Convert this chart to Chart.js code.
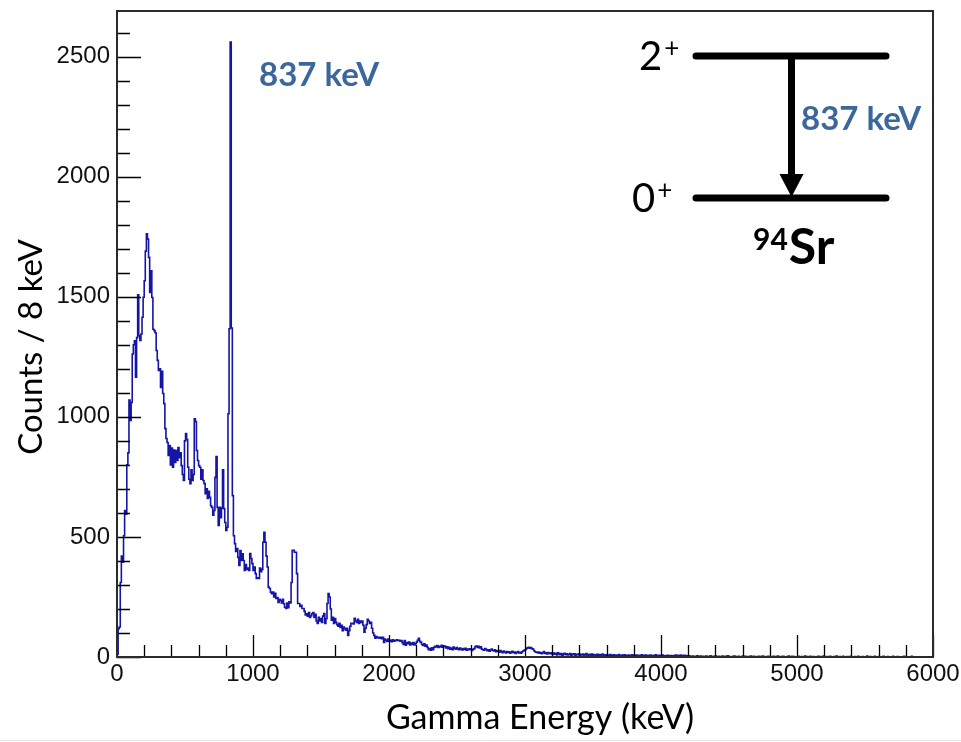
<!DOCTYPE html>
<html>
<head>
<meta charset="utf-8">
<script src="https://cdn.jsdelivr.net/npm/chart.js@4.4.1/dist/chart.umd.min.js"></script>
<style>
  html, body { margin: 0; padding: 0; background: #ffffff; }
  #wrap { width: 961px; height: 742px; position: relative; }
</style>
</head>
<body>
<div id="wrap"><canvas id="c" width="961" height="742"></canvas></div>
<script>
// ---- Data (counts per 8 keV bin) ----
const binWidth = 8; // keV
// 0 – 1000 keV
const countsA = [
  12,118,125,310,420,395,505,610,595,800,
  850,1070,985,1060,1262,1300,1317,1165,1330,1508,
  1338,1318,1345,1415,1498,1567,1690,1762,1740,1664,
  1518,1608,1497,1365,1359,1350,1276,1235,1193,1200,
  1122,1190,1097,1055,951,910,893,839,880,800,
  870,790,862,810,860,818,872,830,850,797,
  760,735,900,930,905,790,740,722,780,735,
  760,992,980,860,818,797,790,740,780,735,
  722,680,700,660,690,665,630,623,590,610,
  748,835,623,548,623,580,620,780,618,560,
  527,540,1013,1367,2561,1370,672,505,472,440,
  452,415,381,443,402,430,402,360,385,365,
  370,360,431,410,389
];
// 1000 – 2000 keV
const countsB = [
  360,375,347,327,330,327,370,355,365,478,
  519,478,420,375,291,285,270,264,270,250,
  265,244,248,227,240,235,225,240,222,207,
  202,225,205,230,225,310,444,444,436,436,
  347,223,223,210,215,202,202,190,175,180,
  170,185,165,172,180,185,165,178,150,140,
  165,150,160,144,170,181,140,160,223,264,
  250,200,153,165,140,160,144,135,128,140,
  123,132,110,125,118,112,119,90,110,128,
  140,140,138,161,150,144,157,140,150,144,
  150,132,103,120,135,157,150,140,145,120,
  100,90,78,85,80,82,78,82,76,82,
  61,75,70,65,75
];
// 2000 – 3000 keV
const countsC = [
  66,70,64,72,66,70,68,72,69,70,
  66,68,60,52,69,49,60,55,62,50,
  58,52,60,50,55,62,70,78,65,61,
  52,48,55,45,50,40,30,35,28,38,
  30,40,45,42,48,40,45,42,49,41,
  44,46,
  38,42,35,40,33,37,30,41,36,32,39,34,30,37,33,29,35,31,36,28,33,30,34,
  30,27,32,35,44,46,40,45,38,42,33,30,28,35,31,26,30,24,29,33,27,25,30,22,26,
  24,20,27,22,18,25,21,17,23,19,22,16,20,24,18,21,15,19,23,17,20,16,22,25,28
];
// 3000 – 6000 keV
const countsD = [
  30,36,38,40,37,39,35,33,26,22,20,18,
  21,16,19,14,18,23,15,17,13,19,15,
  14,18,11,16,12,15,9,17,13,10,14,8,12,15,10,13,9,11,14,7,12,10,13,8,11,
  10,13,8,11,9,12,7,10,14,8,9,11,7,12,8,10,9,7,11,8,10,6,9,12,8,
  7,9,5,8,6,10,4,7,9,5,8,6,7,10,5,6,8,4,9,6,7,5,8,3,6,9,5,7,4,8,
  6,5,7,3,9,6,4,8,5,7,6,3,8,5,4,7,6,9,4,5,7,3,6,8,4,5,6,2,7,5,4,6,3,5,
  6,8,5,7,4,6,8,3,5,7,4,6,2,5,4,
  3,0,4,2,0,3,5,0,2,4,0,3,0,2,4,3,0,0,5,2,0,3,0,4,
  2,0,3,0,0,4,2,0,3,0,5,0,2,0,0,3,4,0,2,0,3,0,0,2,4,
  0,3,0,2,0,0,4,0,2,3,0,0,2,0,3,0,0,4,0,2,0,0,3,0,2,
  0,0,3,0,2,0,4,0,0,2,0,3,0,0,0,2,4,0,0,3,0,2,0,0,0,
  3,0,0,2,0,0,4,0,2,0,0,3,0,0,2,0,0,0,3,0,2,0,0,4,0,
  0,2,0,0,3,0,0,0,2,0,4,0,0,2,0,0,3,0,0,0,2,0,0,3,0,
  0,0,2,0,0,3,0,0,0,2,0,0,0,4,0,0,2,0,0,0,3,0,0,0,2,
  0,0,0,3,0,0,0,2,0,0,0,0,3,0,0,0,2,0,0,0,0,0,3,0,0,
  0,0,0,0,3,0,0,0,0,0,0,0,0,0,0,0,0,0,0,0,0,0,0,0
];

const xTickValues = [0, 1000, 2000, 3000, 4000, 5000, 6000];
const yTickValues = [0, 500, 1000, 1500, 2000, 2500];
const xRange = [0, 6000];
const yRange = [0, 2690];
const xTitle = 'Gamma Energy (keV)';
const yTitle = 'Counts / 8 keV';
const peakLabel = '837 keV';
const levelUpper = '2';
const levelLower = '0';
const parity = '+';
const massNumber = '94';
const element = 'Sr';

// ---- Build histogram points ----
const counts = [...countsA, ...countsB, ...countsC, ...countsD];
const points = counts.map((c, i) => ({ x: i * binWidth, y: c }));
points.push({ x: counts.length * binWidth, y: counts[counts.length - 1] });

const xMinor = []; for (let v = xRange[0]; v <= xRange[1]; v += 200) xMinor.push(v);
const yMinor = []; for (let v = 0; v <= yRange[1]; v += 100) yMinor.push(v);

const blueText = '#3b679b';

const overlay = {
  id: 'overlay',
  afterDatasetsDraw(chart) {
    const { ctx, chartArea: a, scales: { x, y } } = chart;
    ctx.save();
    ctx.strokeStyle = '#000';
    ctx.lineWidth = 1.3;
    ctx.beginPath();
    for (const v of xMinor) {
      const px = Math.round(x.getPixelForValue(v)) + 0.5;
      const len = xTickValues.includes(v) ? 22 : 12;
      ctx.moveTo(px, a.bottom); ctx.lineTo(px, a.bottom - len);
    }
    for (const v of yMinor) {
      const py = Math.round(y.getPixelForValue(v)) + 0.5;
      const len = yTickValues.includes(v) ? 24 : 13;
      ctx.moveTo(a.left, py); ctx.lineTo(a.left + len, py);
    }
    ctx.stroke();
    ctx.strokeStyle = '#2a2a2a';
    ctx.lineWidth = 2;
    ctx.strokeRect(a.left, a.top, a.right - a.left, a.bottom - a.top);
    ctx.restore();
  },
  afterDraw(chart) {
    const { ctx } = chart;
    ctx.save();
    // axis titles
    ctx.fillStyle = '#000';
    ctx.font = '34px Lato, "Open Sans", sans-serif';
    ctx.textAlign = 'center';
    ctx.textBaseline = 'middle';
    ctx.fillText(xTitle, 540, 718);
    ctx.save();
    ctx.translate(31, 347);
    ctx.rotate(-Math.PI / 2);
    ctx.font = '33px Lato, "Open Sans", sans-serif';
    ctx.fillText(yTitle, 0, 0);
    ctx.restore();

    // peak label
    ctx.textAlign = 'left';
    ctx.textBaseline = 'alphabetic';
    ctx.fillStyle = blueText;
    ctx.font = 'bold 33px Lato, "Open Sans", sans-serif';
    ctx.fillText(peakLabel, 259, 86);
    ctx.fillText(peakLabel, 801, 130);

    // level scheme
    ctx.strokeStyle = '#000';
    ctx.fillStyle = '#000';
    ctx.lineCap = 'round';
    ctx.lineWidth = 7;
    ctx.beginPath();
    ctx.moveTo(696, 56); ctx.lineTo(886, 56);
    ctx.moveTo(696, 198); ctx.lineTo(886, 198);
    ctx.stroke();
    ctx.lineCap = 'butt';
    ctx.beginPath();
    ctx.moveTo(791.5, 56); ctx.lineTo(791.5, 178);
    ctx.stroke();
    ctx.beginPath();
    ctx.moveTo(779.5, 174); ctx.lineTo(803.5, 174); ctx.lineTo(791.5, 197); ctx.closePath();
    ctx.fill();

    ctx.font = '40px Lato, "Open Sans", sans-serif';
    ctx.fillText(levelUpper, 639, 70);
    let w = ctx.measureText(levelUpper).width;
    ctx.font = '26px Lato, "Open Sans", sans-serif';
    ctx.fillText(parity, 639 + w + 2, 57);
    ctx.font = '40px Lato, "Open Sans", sans-serif';
    ctx.fillText(levelLower, 632, 212);
    w = ctx.measureText(levelLower).width;
    ctx.font = '26px Lato, "Open Sans", sans-serif';
    ctx.fillText(parity, 632 + w + 2, 199);

    ctx.font = 'bold 30px Lato, "Open Sans", sans-serif';
    ctx.fillText(massNumber, 753, 250);
    w = ctx.measureText(massNumber).width;
    ctx.font = 'bold 50px Lato, "Open Sans", sans-serif';
    ctx.fillText(element, 753 + w + 1, 264);

    // slide edge line
    ctx.strokeStyle = '#e4e4e4';
    ctx.lineWidth = 1;
    ctx.beginPath(); ctx.moveTo(0, 740.5); ctx.lineTo(961, 740.5); ctx.stroke();
    ctx.restore();
  }
};

new Chart(document.getElementById('c'), {
  type: 'line',
  data: {
    datasets: [{
      data: points,
      stepped: true,
      borderColor: '#1414a6',
      borderWidth: 1.6,
      pointRadius: 0,
      fill: false,
      tension: 0
    }]
  },
  options: {
    responsive: false,
    animation: false,
    devicePixelRatio: 1,
    layout: { padding: { top: 11, right: 28, left: 0, bottom: 0 } },
    plugins: { legend: { display: false }, tooltip: { enabled: false }, title: { display: false } },
    scales: {
      x: {
        type: 'linear',
        min: xRange[0], max: xRange[1],
        grid: { display: false, drawTicks: false, tickLength: 0 },
        border: { display: false },
        afterBuildTicks: s => { s.ticks = xTickValues.map(v => ({ value: v })); },
        afterFit: s => { s.height = 85; s.paddingLeft = 0; s.paddingRight = 0; },
        ticks: {
          autoSkip: false, maxRotation: 0, padding: 3,
          color: '#111',
          font: { family: '"Liberation Sans", Arial, sans-serif', size: 24 },
          callback: v => String(v)
        }
      },
      y: {
        type: 'linear',
        min: yRange[0], max: yRange[1],
        grid: { display: false, drawTicks: false, tickLength: 0 },
        border: { display: false },
        afterBuildTicks: s => { s.ticks = yTickValues.map(v => ({ value: v })); },
        afterFit: s => { s.width = 117; s.paddingTop = 0; s.paddingBottom = 0; },
        ticks: {
          padding: 7,
          color: '#111',
          font: { family: '"Liberation Sans", Arial, sans-serif', size: 24 },
          callback: v => String(v)
        }
      }
    }
  },
  plugins: [overlay]
});
</script>
</body>
</html>
